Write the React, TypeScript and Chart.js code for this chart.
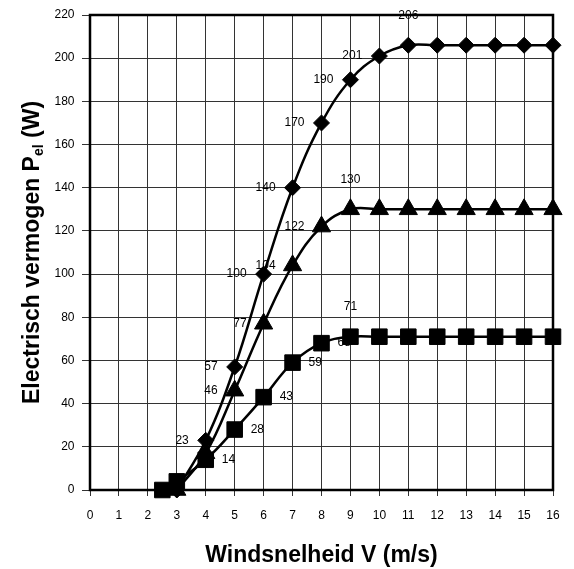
import React, { useEffect, useRef } from 'react';
import { Chart, registerables } from 'chart.js';

Chart.register(...registerables);

// Wind speeds (m/s)
const speedsDiamond = [3, 4, 5, 6, 7, 8, 9, 10, 11, 12, 13, 14, 15, 16];
const powerDiamond = [0, 23, 57, 100, 140, 170, 190, 201, 206, 206, 206, 206, 206, 206];
const labelPosDiamond = ['', 'l', 'l', 'l', 'l', 'l', 'l', 'l', 't', '', '', '', '', ''];

const speedsTriangle = [3, 4, 5, 6, 7, 8, 9, 10, 11, 12, 13, 14, 15, 16];
const powerTriangle = [0, 17, 46, 77, 104, 122, 130, 130, 130, 130, 130, 130, 130, 130];
const labelPosTriangle = ['', '', 'l', 'l', 'l', 'l', 't', '', '', '', '', '', '', ''];

const speedsSquare = [2.5, 3, 4, 5, 6, 7, 8, 9, 10, 11, 12, 13, 14, 15, 16];
const powerSquare = [0, 4, 14, 28, 43, 59, 68, 71, 71, 71, 71, 71, 71, 71, 71];
const labelPosSquare = ['', '', 'r', 'r', 'r', 'r', 'r', 't', '', '', '', '', '', '', ''];

const xTitle = 'Windsnelheid V (m/s)';
const yTitleMain = 'Electrisch vermogen P';
const yTitleSub = 'el';
const yTitleEnd = ' (W)';

const FONT = "'Liberation Sans', Arial, sans-serif";

const toPoints = (xs: number[], ys: number[]) => xs.map((x, i) => ({ x, y: ys[i] }));

const labelPlugin = {
  id: 'valueLabels',
  afterDatasetsDraw(chart: any) {
    const ctx = chart.ctx;
    const posSets = [labelPosDiamond, labelPosTriangle, labelPosSquare];
    ctx.save();
    ctx.font = `12px ${FONT}`;
    ctx.fillStyle = '#000';
    chart.data.datasets.forEach((ds: any, di: number) => {
      const meta = chart.getDatasetMeta(di);
      const pos = posSets[di];
      meta.data.forEach((el: any, i: number) => {
        const p = pos[i];
        if (!p) return;
        const text = String(ds.data[i].y);
        ctx.textBaseline = 'middle';
        if (p === 'l') {
          ctx.textAlign = 'right';
          ctx.fillText(text, el.x - 17, el.y);
        } else if (p === 'r') {
          ctx.textAlign = 'left';
          ctx.fillText(text, el.x + 16, el.y);
        } else {
          ctx.textAlign = 'center';
          ctx.fillText(text, el.x, el.y - 30);
        }
      });
    });
    ctx.restore();
  },
};

const framePlugin = {
  id: 'frameAndTitles',
  beforeDatasetsDraw(chart: any) {
    const { ctx, chartArea } = chart;
    ctx.save();
    ctx.strokeStyle = '#000';
    ctx.lineWidth = 2.5;
    ctx.strokeRect(chartArea.left, chartArea.top, chartArea.right - chartArea.left, chartArea.bottom - chartArea.top);
    ctx.restore();
  },
  afterDraw(chart: any) {
    const { ctx, chartArea } = chart;
    ctx.save();
    ctx.fillStyle = '#000';
    // x title
    ctx.font = `bold 23px ${FONT}`;
    ctx.textAlign = 'center';
    ctx.textBaseline = 'alphabetic';
    ctx.fillText(xTitle, (chartArea.left + chartArea.right) / 2, chartArea.bottom + 72);

    // y title with subscript
    const mainFont = `bold 23px ${FONT}`;
    const subFont = `bold 14px ${FONT}`;
    ctx.font = mainFont;
    const w1 = ctx.measureText(yTitleMain).width;
    const w3 = ctx.measureText(yTitleEnd).width;
    ctx.font = subFont;
    const w2 = ctx.measureText(yTitleSub).width;
    const total = w1 + w2 + w3;
    const cy = (chartArea.top + chartArea.bottom) / 2;
    ctx.translate(chartArea.left - 51.5, cy);
    ctx.rotate(-Math.PI / 2);
    ctx.textAlign = 'left';
    ctx.textBaseline = 'alphabetic';
    let x = -total / 2;
    ctx.font = mainFont;
    ctx.fillText(yTitleMain, x, 0);
    x += w1;
    ctx.font = subFont;
    ctx.fillText(yTitleSub, x, 4);
    x += w2;
    ctx.font = mainFont;
    ctx.fillText(yTitleEnd, x, 0);
    ctx.restore();
  },
};

export default function App() {
  const canvasRef = useRef<HTMLCanvasElement | null>(null);

  useEffect(() => {
    if (!canvasRef.current) return;
    const common = {
      borderColor: '#000',
      backgroundColor: '#000',
      pointBackgroundColor: '#000',
      pointBorderColor: '#000',
      borderWidth: 2.5,
      pointBorderWidth: 1,
      tension: 0.4,
      clip: false as any,
      showLine: true,
    };
    const chart = new Chart(canvasRef.current, {
      type: 'scatter',
      data: {
        datasets: [
          { ...common, label: 'diamond', data: toPoints(speedsDiamond, powerDiamond), pointStyle: 'rectRot', pointRadius: 8 },
          { ...common, label: 'triangle', data: toPoints(speedsTriangle, powerTriangle), pointStyle: 'triangle', pointRadius: 10.5 },
          { ...common, label: 'square', data: toPoints(speedsSquare, powerSquare), pointStyle: 'rect', pointRadius: 11 },
        ],
      },
      options: {
        responsive: false,
        animation: false,
        events: [],
        layout: { padding: { top: 15, right: 21, left: 0, bottom: 0 } },
        plugins: {
          legend: { display: false },
          tooltip: { enabled: false },
          title: { display: false },
        },
        scales: {
          x: {
            type: 'linear',
            min: 0,
            max: 16,
            afterFit: (s: any) => { s.height = 79; },
            border: { display: false },
            grid: { color: '#333', lineWidth: 1, tickLength: 6, drawTicks: true },
            ticks: { stepSize: 1, color: '#000', padding: 12, font: { family: FONT, size: 12 }, maxRotation: 0 },
          },
          y: {
            type: 'linear',
            min: 0,
            max: 220,
            afterFit: (s: any) => { s.width = 90; },
            border: { display: false },
            grid: { color: '#333', lineWidth: 1, tickLength: 8, drawTicks: true },
            ticks: { stepSize: 20, color: '#000', padding: 7.5, font: { family: FONT, size: 12 } },
          },
        },
      },
      plugins: [framePlugin, labelPlugin],
    });
    return () => chart.destroy();
  }, []);

  return (
    <div style={{ position: 'fixed', left: 0, top: 0, width: 574, height: 569, background: '#fff' }}>
      <canvas ref={canvasRef} width={574} height={569} style={{ width: 574, height: 569, display: 'block' }} />
    </div>
  );
}
